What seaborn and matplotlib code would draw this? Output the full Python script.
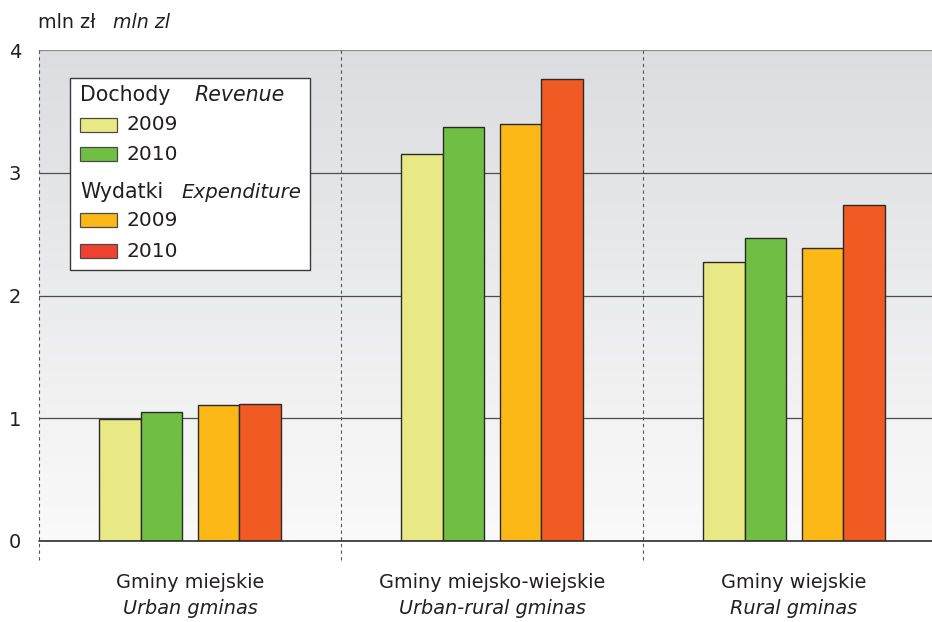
import numpy as np
import pandas as pd
import matplotlib.pyplot as plt
import seaborn as sns
from matplotlib.patches import Rectangle
from matplotlib.colors import LinearSegmentedColormap

# values in mln zl
groups = ["Gminy miejskie", "Gminy miejsko-wiejskie", "Gminy wiejskie"]
groups_en = ["Urban gminas", "Urban-rural gminas", "Rural gminas"]
series = ["Dochody 2009", "Dochody 2010", "Wydatki 2009", "Wydatki 2010"]
revenue_2009 = [0.99, 3.15, 2.27]
revenue_2010 = [1.05, 3.37, 2.47]
expenditure_2009 = [1.11, 3.40, 2.39]
expenditure_2010 = [1.12, 3.76, 2.74]
yticks = [0, 1, 2, 3, 4]

colors = ["#e8e985", "#70bf44", "#fcb817", "#f15a22"]
legend_colors = ["#e8e985", "#70bf44", "#fcb817", "#ef4130"]

W, H = 932, 622


def fx(px):
    return px / W


def fy(py):
    return 1 - py / H


def main():
    sns.set_style("white")
    plt.rcParams["font.family"] = ["DejaVu Sans"]
    plt.rcParams["text.color"] = "#231f20"

    df = pd.DataFrame({
        "group": groups * 4,
        "series": np.repeat(series, 3),
        "value": revenue_2009 + revenue_2010 + expenditure_2009 + expenditure_2010,
    })

    fig = plt.figure(figsize=(W / 100, H / 100), dpi=100)
    ax = fig.add_axes([fx(39), fy(541), fx(932) - fx(39), fy(50) - fy(541)])

    sns.barplot(data=df, x="group", y="value", hue="series", order=groups,
                hue_order=series, palette=colors, saturation=1, width=0.55,
                edgecolor="#2b2b2b", linewidth=1.0, legend=False, ax=ax,
                zorder=2)

    # small gap between the revenue pair and the expenditure pair
    for i, cont in enumerate(ax.containers):
        dx = -0.025 if i < 2 else 0.025
        for bar in cont:
            bar.set_x(bar.get_x() + dx)

    xmin, xmax = -0.5, -0.5 + (932 - 39) / 302
    # vertical gradient background
    cmap = LinearSegmentedColormap.from_list("bg", ["#fafafa", "#dcdde0"])
    ax.imshow(np.linspace(0, 1, 256).reshape(-1, 1), cmap=cmap, origin="lower",
              extent=(xmin, xmax, 0, 4), aspect="auto", zorder=0)
    ax.set_xlim(xmin, xmax)
    ax.set_ylim(0, 4)

    for y in [1, 2, 3]:
        ax.axhline(y, color="#4d4d4d", lw=0.9, zorder=1)
    ax.axhline(4, color="#8c8c8c", lw=0.9, zorder=1)
    ax.axhline(0, color="#2b2b2b", lw=1.2, zorder=3, clip_on=False)

    # dashed separators, running a bit below the axis
    for x in [-0.5, 0.5, 1.5]:
        ax.plot([x, x], [4, -0.16], color="#555555", lw=0.8,
                ls=(0, (3, 3)), clip_on=False, zorder=1)

    for s in ax.spines.values():
        s.set_visible(False)

    ax.set_yticks(yticks)
    ax.set_yticklabels([str(t) for t in yticks])
    ax.tick_params(axis="y", length=0, pad=13, labelsize=14, labelcolor="#231f20")
    ax.set_xticks([])
    ax.set_xlabel("")
    ax.set_ylabel("")

    for i, (pl, en) in enumerate(zip(groups, groups_en)):
        ax.annotate(pl, xy=(i, 0), xycoords=("data", "axes fraction"),
                    xytext=(0, -42), textcoords="offset pixels",
                    ha="center", va="center", fontsize=13.9)
        ax.annotate(en, xy=(i, 0), xycoords=("data", "axes fraction"),
                    xytext=(0, -67), textcoords="offset pixels",
                    ha="center", va="center", fontsize=13.9, style="italic")

    # unit label
    fig.text(fx(38), fy(22), "mln zł", ha="left", va="center", fontsize=13.7)
    fig.text(fx(113), fy(22), "mln zl", ha="left", va="center", fontsize=13.7,
             style="italic")

    # legend box drawn by hand (mixed roman/italic headers)
    fig.patches.append(Rectangle((fx(70), fy(270)), fx(310) - fx(70),
                                 fy(78) - fy(270), transform=fig.transFigure,
                                 facecolor="white", edgecolor="#3a3a3a",
                                 lw=1.0, zorder=5))
    fs = 14.8
    fig.text(fx(80), fy(95), "Dochody", ha="left", va="center", fontsize=fs, zorder=6)
    fig.text(fx(194), fy(95), "Revenue", ha="left", va="center", fontsize=fs,
             style="italic", zorder=6)
    fig.text(fx(80), fy(192), "Wydatki", ha="left", va="center", fontsize=fs, zorder=6)
    fig.text(fx(181), fy(192), "Expenditure", ha="left", va="center", fontsize=14.2,
             style="italic", zorder=6)
    rows = [125, 154, 220, 251]
    labels = ["2009", "2010", "2009", "2010"]
    for py, lab, col in zip(rows, labels, legend_colors):
        fig.patches.append(Rectangle((fx(80), fy(py + 7)), fx(37), 14 / H,
                                     transform=fig.transFigure, facecolor=col,
                                     edgecolor="#4a4a4a", lw=0.9, zorder=6))
        fig.text(fx(126), fy(py), lab, ha="left", va="center", fontsize=14.5, zorder=6)

    fig.savefig("out.png", dpi=100)
    plt.close(fig)


if __name__ == "__main__":
    main()
